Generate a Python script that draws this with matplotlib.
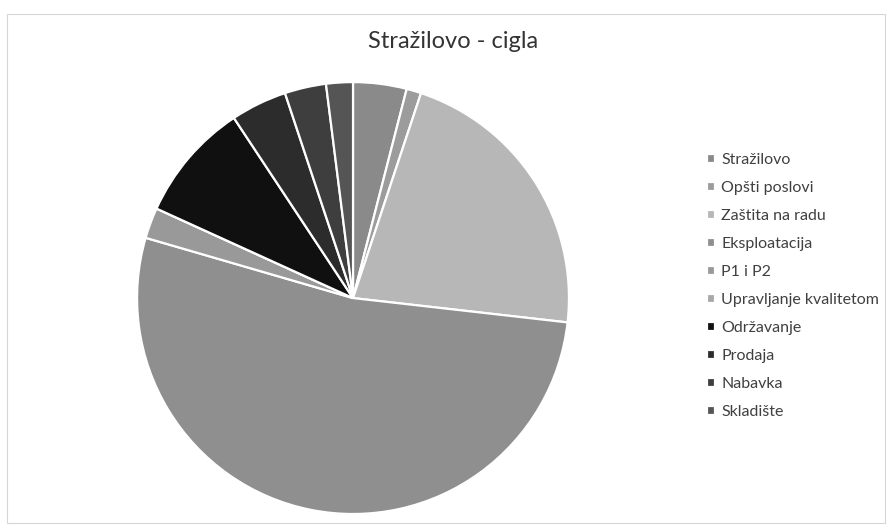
import matplotlib.pyplot as plt
from matplotlib.patches import Rectangle

# --- data (percent shares) ---
labels = ['Stražilovo', 'Opšti poslovi', 'Zaštita na radu', 'Eksploatacija',
          'P1 i P2', 'Upravljanje kvalitetom', 'Održavanje', 'Prodaja',
          'Nabavka', 'Skladište']
shares = [4.0, 1.1, 21.7, 52.7, 2.3, 0.0, 8.9, 4.2, 3.1, 2.0]
colors = ['#8a8a8a', '#9c9c9c', '#b7b7b7', '#8f8f8f', '#999999',
          '#a8a8a8', '#101010', '#2c2c2c', '#3e3e3e', '#555555']

plt.rcParams['font.family'] = ['Lato', 'DejaVu Sans']

fig = plt.figure(figsize=(8.91, 5.28), dpi=100)
fig.patch.set_facecolor('white')

# faint chart border
fig.add_artist(Rectangle((0.008, 0.01), 0.985, 0.963, transform=fig.transFigure,
                         fill=False, edgecolor='#d6d6d6', linewidth=0.8))

ax = fig.add_axes([0.1538, 0.0265, 0.4848, 0.818])
wedges, _ = ax.pie(shares, colors=colors, startangle=90, counterclock=False,
                   radius=1.0,
                   wedgeprops=dict(edgecolor='white', linewidth=1.6))
ax.set_xlim(-1, 1)
ax.set_ylim(-1, 1)
ax.set_aspect('equal')
ax.axis('off')

fig.text(0.508, 0.922, 'Stražilovo - cigla', ha='center', va='center',
         fontsize=17, color='#333333')

fig.legend(wedges, labels, loc='upper left', bbox_to_anchor=(0.786, 0.722),
           frameon=False, fontsize=11.5, labelcolor='#404040',
           handlelength=0.5, handleheight=0.5, handletextpad=0.4,
           labelspacing=0.875, borderaxespad=0)

fig.savefig('out.png', dpi=100)
